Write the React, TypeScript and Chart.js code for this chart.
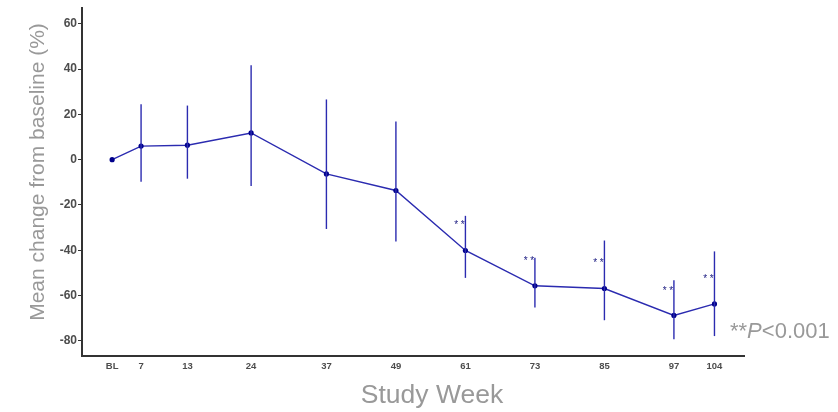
import React, { useEffect, useRef } from "react";
import { Chart, registerables } from "chart.js";

Chart.register(...registerables);

// Data
const weekPositions = [0, 5, 13, 24, 37, 49, 61, 73, 85, 97, 104];
const weekLabels = ["BL", "7", "13", "24", "37", "49", "61", "73", "85", "97", "104"];
const meanChange = [0, 6.0, 6.4, 11.8, -6.3, -13.6, -40.1, -55.7, -56.9, -68.8, -63.7];
const upperBound = [null, 24.5, 23.9, 41.7, 26.6, 16.9, -24.8, -43.3, -35.7, -53.2, -40.5];
const lowerBound = [null, -9.8, -8.4, -11.6, -30.6, -36.1, -52.2, -65.3, -70.9, -79.3, -77.9];
const starWeeks = [61, 73, 85, 97, 104];
const starValues = [-27.7, -43.6, -44.5, -56.7, -51.3];
const yTicks = [-80, -60, -40, -20, 0, 20, 40, 60];

const FONT = "'Liberation Sans', Arial, Helvetica, sans-serif";
const LINE_COLOR = "#2b2bb0";
const POINT_COLOR = "#00008b";
const AXIS_COLOR = "#333333";
const TITLE_COLOR = "#999999";

const overlayPlugin = {
  id: "overlay",
  afterDatasetsDraw(chart: any) {
    const ctx = chart.ctx;
    const xs = chart.scales.x;
    const ys = chart.scales.y;
    ctx.save();
    // error bars
    ctx.strokeStyle = LINE_COLOR;
    ctx.lineWidth = 1.4;
    weekPositions.forEach((w, i) => {
      const up = upperBound[i];
      const lo = lowerBound[i];
      if (up == null || lo == null) return;
      const px = xs.getPixelForValue(w);
      ctx.beginPath();
      ctx.moveTo(px, ys.getPixelForValue(up));
      ctx.lineTo(px, ys.getPixelForValue(lo));
      ctx.stroke();
    });
    // stars
    ctx.fillStyle = "#1a1a80";
    ctx.font = `10px ${FONT}`;
    ctx.textAlign = "center";
    ctx.textBaseline = "middle";
    starWeeks.forEach((w, i) => {
      const px = xs.getPixelForValue(w) - 6;
      const py = ys.getPixelForValue(starValues[i]) + 3;
      ctx.fillText("* *", px, py);
    });
    ctx.restore();
  },
  afterDraw(chart: any) {
    const ctx = chart.ctx;
    const area = chart.chartArea;
    ctx.save();
    ctx.fillStyle = TITLE_COLOR;
    // y title
    ctx.save();
    ctx.translate(38, 172);
    ctx.rotate(-Math.PI / 2);
    ctx.font = `21px ${FONT}`;
    ctx.textAlign = "center";
    ctx.textBaseline = "middle";
    ctx.fillText("Mean change from baseline (%)", 0, 0);
    ctx.restore();
    // x title
    ctx.font = `26.5px ${FONT}`;
    ctx.textAlign = "center";
    ctx.textBaseline = "middle";
    ctx.fillText("Study Week", (area.left + area.right) / 2 + 19, 396);
    // p value
    ctx.textAlign = "left";
    ctx.font = `22px ${FONT}`;
    let x = 730;
    const y = 332;
    ctx.fillText("**", x, y);
    x += ctx.measureText("**").width;
    ctx.font = `italic 22px ${FONT}`;
    ctx.fillText("P", x, y);
    x += ctx.measureText("P").width;
    ctx.font = `22px ${FONT}`;
    ctx.fillText("<0.001", x, y);
    ctx.restore();
  },
};

export default function App() {
  const canvasRef = useRef<HTMLCanvasElement | null>(null);

  useEffect(() => {
    document.body.style.margin = "0";
    const canvas = canvasRef.current;
    if (!canvas) return;
    const chart = new Chart(canvas, {
      type: "line",
      data: {
        datasets: [
          {
            data: weekPositions.map((w, i) => ({ x: w, y: meanChange[i] })),
            borderColor: LINE_COLOR,
            borderWidth: 1.4,
            pointBackgroundColor: POINT_COLOR,
            pointBorderColor: POINT_COLOR,
            pointRadius: 2.6,
            pointBorderWidth: 0,
            tension: 0,
          },
        ],
      },
      options: {
        animation: false,
        responsive: false,
        maintainAspectRatio: false,
        layout: { padding: { top: 4, right: 94, left: 0, bottom: 0 } },
        plugins: {
          legend: { display: false },
          tooltip: { enabled: false },
          title: { display: false },
        },
        scales: {
          x: {
            type: "linear",
            min: -5.2,
            max: 109.1,
            afterBuildTicks: (scale: any) => {
              scale.ticks = weekPositions.map((v) => ({ value: v }));
            },
            afterFit: (scale: any) => {
              scale.height = 56;
            },
            grid: { display: true, drawOnChartArea: false, drawTicks: false },
            border: { display: true, color: AXIS_COLOR, width: 2 },
            ticks: {
              autoSkip: false,
              maxRotation: 0,
              padding: 5,
              color: "#4d4d4d",
              font: { family: FONT, size: 9.5, weight: "bold" },
              callback: (value: any) => {
                const idx = weekPositions.indexOf(value);
                return idx >= 0 ? weekLabels[idx] : "";
              },
            },
          },
          y: {
            type: "linear",
            min: -86.7,
            max: 66.9,
            afterBuildTicks: (scale: any) => {
              scale.ticks = yTicks.map((v) => ({ value: v }));
            },
            afterFit: (scale: any) => {
              scale.width = 82;
            },
            grid: {
              display: true,
              drawOnChartArea: false,
              drawTicks: true,
              tickLength: 4,
              color: AXIS_COLOR,
              lineWidth: 1,
            },
            border: { display: true, color: AXIS_COLOR, width: 2 },
            ticks: {
              padding: 1,
              color: "#4d4d4d",
              font: { family: FONT, size: 12, weight: "bold" },
            },
          },
        },
      },
      plugins: [overlayPlugin],
    } as any);
    return () => chart.destroy();
  }, []);

  return (
    <div style={{ width: 838, height: 412, background: "#fff" }}>
      <canvas ref={canvasRef} width={838} height={412} style={{ display: "block" }} />
    </div>
  );
}
